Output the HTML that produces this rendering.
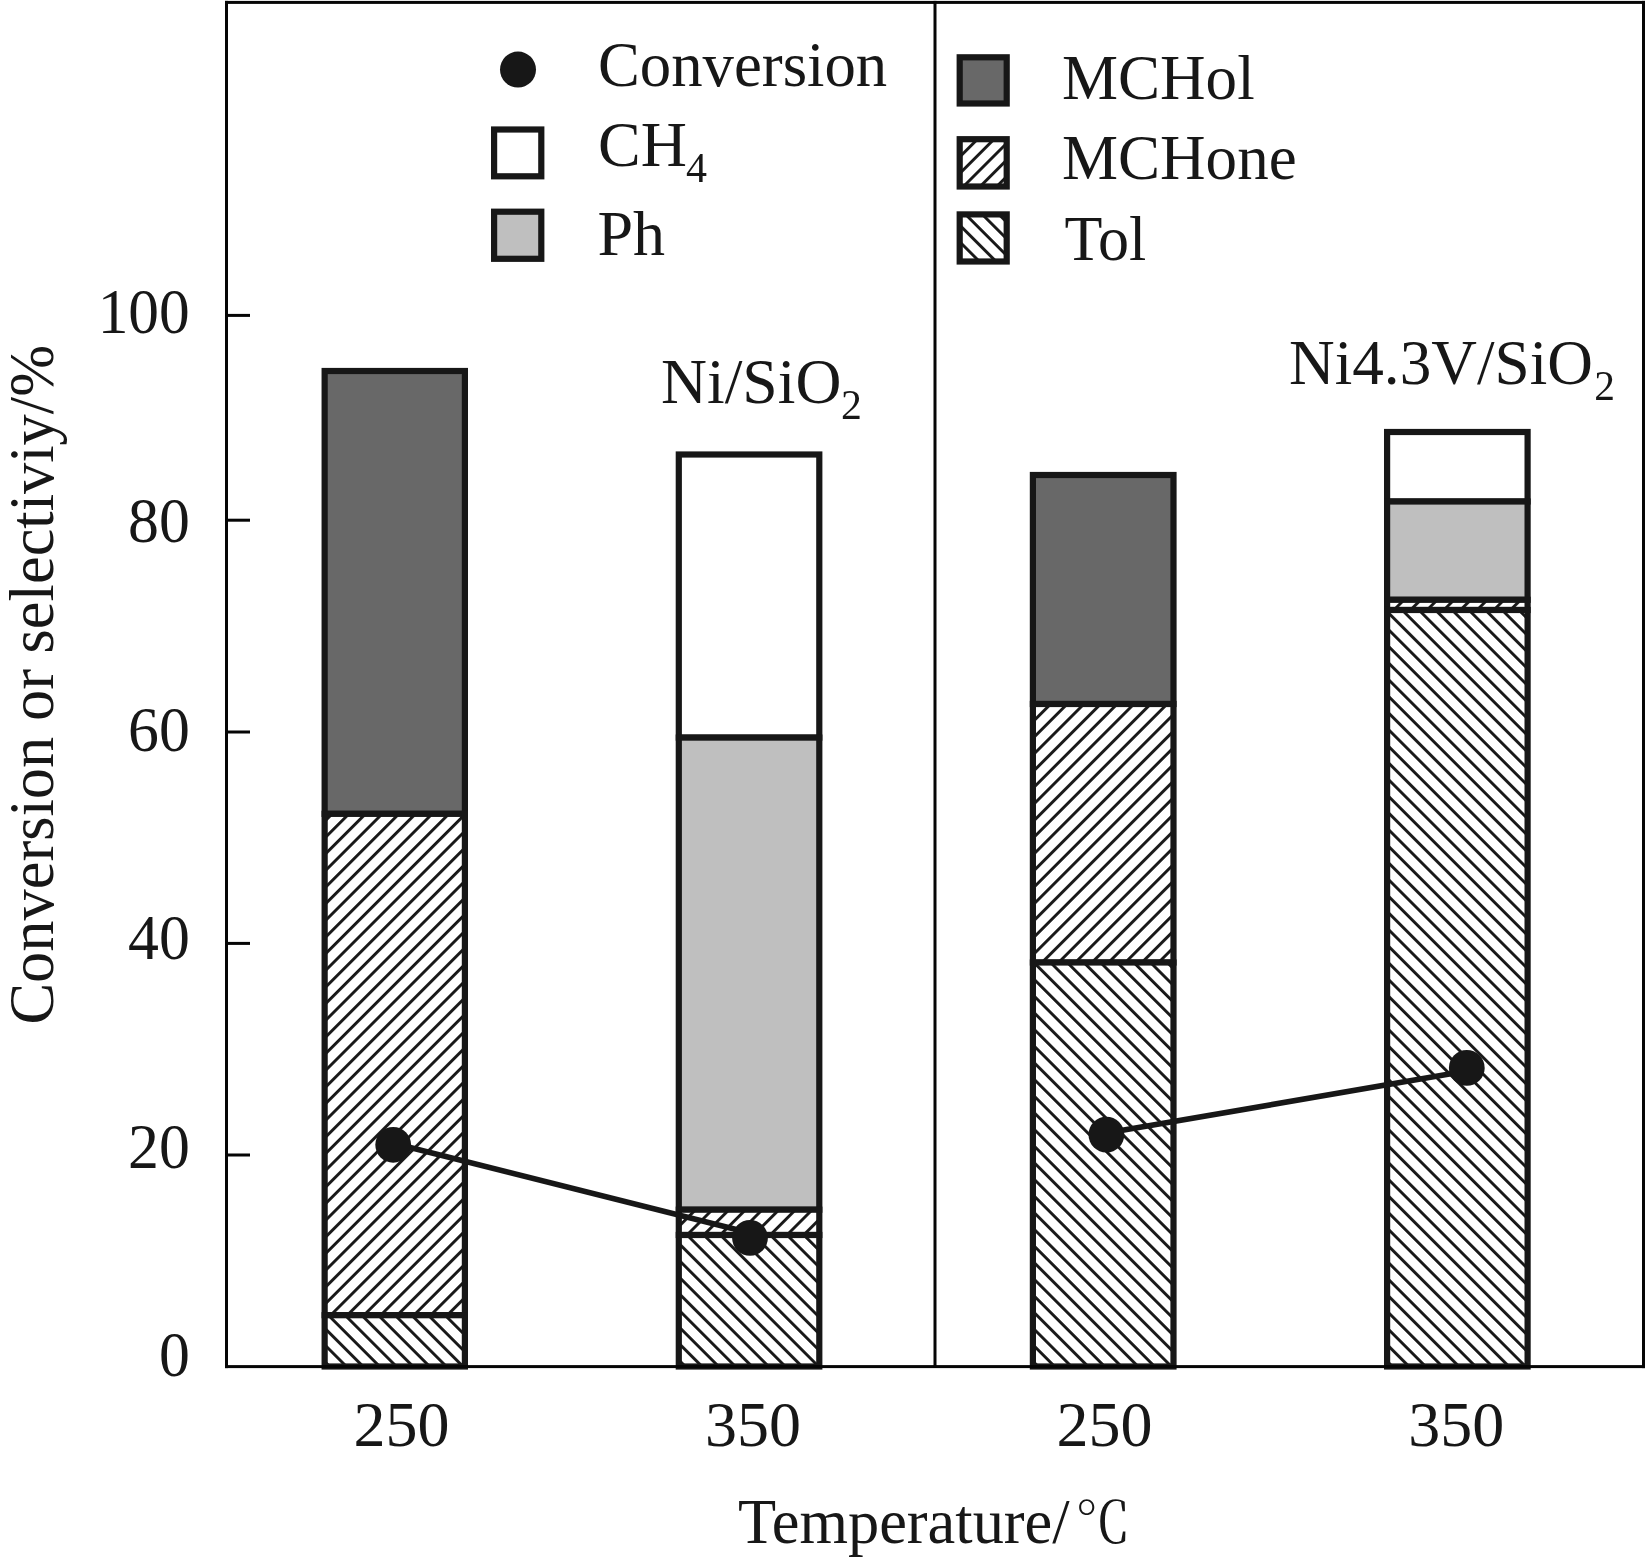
<!DOCTYPE html>
<html>
<head>
<meta charset="utf-8">
<title>Conversion and selectivity vs temperature</title>
<style>
html,body{margin:0;padding:0;background:#fff;}
body{width:1646px;height:1562px;overflow:hidden;}
svg{display:block;will-change:transform;}
text{font-family:"Liberation Serif","Noto Serif CJK SC",serif;font-size:64px;fill:#171717;}
text .sub{font-size:42px;}
text.cjk{font-family:"Noto Serif CJK SC","Liberation Serif",serif;}
</style>
</head>
<body>
<svg width="1646" height="1562" viewBox="0 0 1646 1562" xmlns="http://www.w3.org/2000/svg">
<defs>
<pattern id="f1" patternUnits="userSpaceOnUse" width="11.7804" height="50" patternTransform="translate(11.149,0) rotate(45)"><rect width="11.7804" height="50" fill="#fff"/><rect width="2.9" height="50" fill="#171717"/></pattern>
<pattern id="f2" patternUnits="userSpaceOnUse" width="11.7804" height="50" patternTransform="translate(4.049,0) rotate(45)"><rect width="11.7804" height="50" fill="#fff"/><rect width="2.9" height="50" fill="#171717"/></pattern>
<pattern id="f3" patternUnits="userSpaceOnUse" width="11.7804" height="50" patternTransform="translate(3.249,0) rotate(45)"><rect width="11.7804" height="50" fill="#fff"/><rect width="2.9" height="50" fill="#171717"/></pattern>
<pattern id="f4" patternUnits="userSpaceOnUse" width="11.7804" height="50" patternTransform="translate(2.609,0) rotate(45)"><rect width="11.7804" height="50" fill="#fff"/><rect width="2.9" height="50" fill="#171717"/></pattern>
<pattern id="b1" patternUnits="userSpaceOnUse" width="11.7804" height="50" patternTransform="translate(10.749,0) rotate(-45)"><rect width="11.7804" height="50" fill="#fff"/><rect width="2.9" height="50" fill="#171717"/></pattern>
<pattern id="b2" patternUnits="userSpaceOnUse" width="11.7804" height="50" patternTransform="translate(-0.151,0) rotate(-45)"><rect width="11.7804" height="50" fill="#fff"/><rect width="2.9" height="50" fill="#171717"/></pattern>
<pattern id="b3" patternUnits="userSpaceOnUse" width="11.7804" height="50" patternTransform="translate(2.709,0) rotate(-45)"><rect width="11.7804" height="50" fill="#fff"/><rect width="2.9" height="50" fill="#171717"/></pattern>
<pattern id="b4" patternUnits="userSpaceOnUse" width="11.7804" height="50" patternTransform="translate(7.099,0) rotate(-45)"><rect width="11.7804" height="50" fill="#fff"/><rect width="2.9" height="50" fill="#171717"/></pattern>
<pattern id="fl" patternUnits="userSpaceOnUse" width="11.7804" height="50" patternTransform="translate(-1.651,0) rotate(45)"><rect width="11.7804" height="50" fill="#fff"/><rect width="2.9" height="50" fill="#171717"/></pattern>
<pattern id="bl" patternUnits="userSpaceOnUse" width="11.7804" height="50" patternTransform="translate(-0.551,0) rotate(-45)"><rect width="11.7804" height="50" fill="#fff"/><rect width="2.9" height="50" fill="#171717"/></pattern>
</defs>
<rect x="0" y="0" width="1646" height="1562" fill="#fff"/>

<!-- stacked bars -->
<g stroke="#171717" stroke-width="6.2">
<rect x="324.65" y="371" width="140.25" height="442.85" fill="#686868"/>
<rect x="324.65" y="813.85" width="140.25" height="501.35" fill="url(#f1)"/>
<rect x="324.65" y="1315.2" width="140.25" height="51.30" fill="url(#b1)"/>
<rect x="678.8" y="454.5" width="140.50" height="283.10" fill="#fff"/>
<rect x="678.8" y="737.6" width="140.50" height="472.10" fill="#bfbfbf"/>
<rect x="678.8" y="1209.7" width="140.50" height="25.30" fill="url(#f2)"/>
<rect x="678.8" y="1235.0" width="140.50" height="131.50" fill="url(#b2)"/>
<rect x="1032.9" y="475" width="140.60" height="229.00" fill="#686868"/>
<rect x="1032.9" y="704" width="140.60" height="258.50" fill="url(#f3)"/>
<rect x="1032.9" y="962.5" width="140.60" height="404.00" fill="url(#b3)"/>
<rect x="1387.1" y="432" width="140.50" height="69.50" fill="#fff"/>
<rect x="1387.1" y="501.5" width="140.50" height="98.30" fill="#bfbfbf"/>
<rect x="1387.1" y="599.8" width="140.50" height="10.20" fill="url(#f4)"/>
<rect x="1387.1" y="610" width="140.50" height="756.50" fill="url(#b4)"/>
</g>

<!-- frame, divider and ticks -->
<g fill="#050505">
<rect x="225" y="0.9" width="1420" height="3"/>
<rect x="225" y="0.9" width="3" height="1367.2"/>
<rect x="1642" y="0.9" width="3" height="1367.2"/>
<rect x="225" y="1365.1" width="1420" height="3"/>
<rect x="933.5" y="0.9" width="3" height="1367"/>
<rect x="227" y="313.9" width="23" height="3"/>
<rect x="227" y="518.7" width="23" height="3"/>
<rect x="227" y="730.5" width="23" height="3"/>
<rect x="227" y="941.9" width="23" height="3"/>
<rect x="227" y="1153.5" width="23" height="3"/>
</g>

<!-- conversion series -->
<g stroke="#171717" stroke-width="5.6" fill="none">
<line x1="393.2" y1="1143.3" x2="750.2" y2="1233.0"/>
<line x1="1106.4" y1="1133.0" x2="1466.8" y2="1071.1"/>
</g>
<g fill="#171717">
<circle cx="393.2" cy="1144.8" r="17.9"/>
<circle cx="750.0" cy="1237.9" r="17.9"/>
<circle cx="1106.4" cy="1134.6" r="17.9"/>
<circle cx="1466.8" cy="1067.9" r="17.9"/>
</g>

<!-- legend symbols -->
<circle cx="518" cy="69.6" r="18" fill="#171717"/>
<g stroke="#171717" stroke-width="6.2">
<rect x="494.1" y="129.5" width="47.2" height="46.8" fill="#fff"/>
<rect x="494.1" y="211.7" width="47.2" height="47.1" fill="#bfbfbf"/>
<rect x="959.7" y="57.3" width="47" height="46.2" fill="#686868"/>
<rect x="959.7" y="139.2" width="47" height="47.3" fill="url(#fl)"/>
<rect x="959.7" y="214.4" width="47" height="47.1" fill="url(#bl)"/>
</g>

<!-- labels -->
<text transform="translate(598,86) scale(0.9800,1.0000)">Conversion</text>
<text transform="translate(598,165.5) scale(1.0000,1.0000)">CH<tspan class="sub" x="88" y="16.8">4</tspan></text>
<text transform="translate(597.5,255.1) scale(1.0000,1.0000)">Ph</text>
<text transform="translate(1062,98.5) scale(0.9850,1.0000)">MCHol</text>
<text transform="translate(1062,179) scale(0.9850,1.0000)">MCHone</text>
<text transform="translate(1064.5,260.2) scale(0.9700,1.0000)">Tol</text>
<text transform="translate(661,402.6) scale(0.9950,1.0000)">Ni/SiO<tspan class="sub" x="180.8" y="16">2</tspan></text>
<text transform="translate(1289,383.6) scale(0.9880,1.0000)">Ni4.3V/SiO<tspan class="sub" x="309" y="16.5">2</tspan></text>
<text text-anchor="end" transform="translate(189.8,333.2) scale(0.9600,1.0000)">100</text>
<text text-anchor="end" transform="translate(189.8,542.3) scale(0.9650,1.0000)">80</text>
<text text-anchor="end" transform="translate(189.8,751.3) scale(0.9650,1.0000)">60</text>
<text text-anchor="end" transform="translate(189.8,958.9) scale(0.9650,1.0000)">40</text>
<text text-anchor="end" transform="translate(189.8,1168.4) scale(0.9650,1.0000)">20</text>
<text text-anchor="end" transform="translate(189.8,1376.4) scale(0.9650,1.0000)">0</text>
<text text-anchor="middle" transform="translate(401.4,1446.4) scale(1.0000,1.0000)">250</text>
<text text-anchor="middle" transform="translate(753,1446.4) scale(1.0000,1.0000)">350</text>
<text text-anchor="middle" transform="translate(1104.4,1446.4) scale(1.0000,1.0000)">250</text>
<text text-anchor="middle" transform="translate(1456.2,1446.4) scale(1.0000,1.0000)">350</text>
<text transform="translate(738,1542.6) scale(0.9750,1.0000)">Temperature/</text>
<text transform="translate(1075,1542.6) scale(0.8700,0.8900)" class="cjk">℃</text>
<text text-anchor="middle" transform="translate(53,684.7) rotate(-90) scale(0.9760,1)">Conversion or selectiviy/%</text>
</svg>
</body>
</html>
